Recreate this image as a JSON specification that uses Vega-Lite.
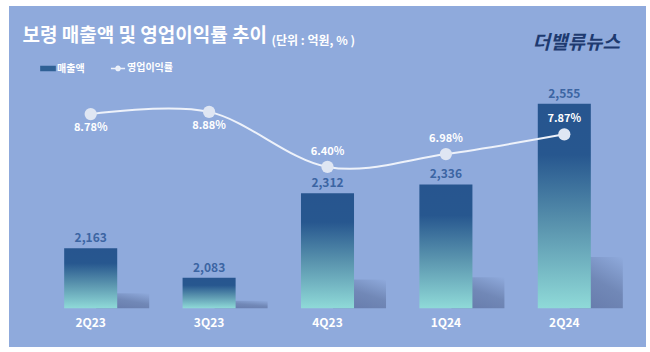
{
  "$schema": "https://vega.github.io/schema/vega-lite/v6.json",
  "width": 637,
  "height": 341,
  "autosize": {"type": "none"},
  "padding": {"left": 9, "top": 6, "right": 4, "bottom": 5},
  "background": "white",
  "config": {
    "view": {"fill": "#8FAADC", "stroke": null},
    "font": "Noto Sans CJK KR"
  },
  "data": {
    "values": [
      {"quarter": "2Q23", "sales": 2163, "margin": 0.0878, "series": "영업이익률"},
      {"quarter": "3Q23", "sales": 2083, "margin": 0.0888, "series": "영업이익률"},
      {"quarter": "4Q23", "sales": 2312, "margin": 0.0640, "series": "영업이익률"},
      {"quarter": "1Q24", "sales": 2336, "margin": 0.0698, "series": "영업이익률"},
      {"quarter": "2Q24", "sales": 2555, "margin": 0.0787, "series": "영업이익률"}
    ]
  },
  "encoding": {
    "x": {
      "field": "quarter",
      "type": "nominal",
      "sort": null,
      "scale": {"paddingInner": 0.552, "paddingOuter": 0.466},
      "axis": {
        "title": null,
        "labelAngle": 0,
        "labelColor": "white",
        "labelFontSize": 12,
        "labelFontWeight": "bold",
        "labelFont": "Noto Sans CJK KR",
        "offset": -30,
        "labelPadding": 0,
        "domain": false,
        "ticks": false,
        "grid": false
      }
    }
  },
  "layer": [
    {
      "mark": {
        "type": "bar",
        "xOffset": 32,
        "color": {
          "gradient": "linear",
          "x1": 0.4, "y1": 1, "x2": 1, "y2": 0,
          "stops": [
            {"offset": 0, "color": "#687DAD"},
            {"offset": 0.45, "color": "#7188B7"},
            {"offset": 1, "color": "#8FAADC"}
          ]
        }
      },
      "encoding": {
        "y": {
          "field": "sales",
          "type": "quantitative",
          "scale": {"domain": [1580, 5279], "zero": false, "nice": false},
          "axis": {
            "orient": "left",
            "title": "보령 매출액 및 영업이익률 추이",
            "titleAngle": 0,
            "titleX": 13,
            "titleY": 29,
            "titleAlign": "left",
            "titleBaseline": "middle",
            "titleColor": "white",
            "titleFontSize": 19,
            "titleFontWeight": "bold",
            "titleFont": "Noto Sans CJK KR",
            "labels": false,
            "ticks": false,
            "domain": false,
            "grid": false
          }
        },
        "y2": {"datum": 2000}
      }
    },
    {
      "encoding": {
        "y": {
          "field": "sales",
          "type": "quantitative",
          "scale": {"domain": [1895, 2820], "zero": false, "nice": false},
          "axis": {
            "orient": "left",
            "title": "(단위 : 억원, % )",
            "titleAngle": 0,
            "titleX": 262,
            "titleY": 34,
            "titleAlign": "left",
            "titleBaseline": "middle",
            "titleColor": "white",
            "titleFontSize": 12,
            "titleFontWeight": "bold",
            "titleFont": "Noto Sans CJK KR",
            "labels": false,
            "ticks": false,
            "domain": false,
            "grid": false
          }
        }
      },
      "layer": [
        {
          "mark": {
            "type": "bar",
            "color": {
              "gradient": "linear",
              "x1": 0, "y1": 0, "x2": 0, "y2": 1,
              "stops": [
                {"offset": 0, "color": "#27558F"},
                {"offset": 0.25, "color": "#27578F"},
                {"offset": 0.6, "color": "#5A94AE"},
                {"offset": 1, "color": "#8FDAD8"}
              ]
            }
          },
          "encoding": {"y2": {"datum": 2000}}
        },
        {
          "mark": {"type": "text", "baseline": "bottom", "dy": -3, "fontSize": 12, "fontWeight": "bold", "color": "#3C65A3", "font": "Noto Sans CJK KR"},
          "encoding": {"text": {"field": "sales", "type": "quantitative", "format": ","}}
        }
      ]
    },
    {
      "encoding": {
        "y": {
          "field": "margin",
          "type": "quantitative",
          "scale": {"domain": [-0.0171, 0.1365], "zero": false, "nice": false},
          "axis": {
            "orient": "right",
            "title": "더밸류뉴스",
            "titleAngle": 0,
            "titleX": -114,
            "titleY": 36,
            "titleAlign": "left",
            "titleBaseline": "middle",
            "titleColor": "#1E3A70",
            "titleFontSize": 19,
            "titleFontWeight": "bold",
            "titleFontStyle": "italic",
            "titleFont": "Noto Sans CJK KR",
            "labels": false,
            "ticks": false,
            "domain": false,
            "grid": false
          }
        }
      },
      "layer": [
        {
          "mark": {"type": "line", "interpolate": "cardinal", "strokeWidth": 2},
          "encoding": {
            "color": {
              "field": "series",
              "type": "nominal",
              "scale": {"domain": ["매출액", "영업이익률"], "range": ["#2F6095", "#EEF2FA"]},
              "legend": {
                "orient": "none",
                "legendX": 31,
                "legendY": 54,
                "direction": "horizontal",
                "title": null,
                "labelColor": "white",
                "labelFontSize": 10,
                "labelFontWeight": "bold",
                "labelFont": "Noto Sans CJK KR",
                "symbolType": "stroke",
                "symbolSize": 200,
                "columnPadding": 22,
                "labelOffset": 1,
                "symbolStrokeWidth": 1.5,
                "encoding": {
                  "symbols": {
                    "shape": {"value": {"expr": "datum.value === '매출액' ? 'M-1,-0.28H1V0.28H-1Z' : 'M-1,0H-0.3M0.3,0H1M-0.3,0A0.3,0.3,0,1,1,0.3,0A0.3,0.3,0,1,1,-0.3,0Z'"}},
                    "fill": {"value": {"expr": "datum.value === '매출액' ? '#2F6095' : '#E6ECF6'"}},
                    "stroke": {"value": {"expr": "datum.value === '매출액' ? '#3E7FA6' : '#F2F5FB'"}}
                  }
                }
              }
            }
          }
        },
        {
          "mark": {"type": "point", "filled": true, "size": 150, "opacity": 1, "color": "#DFE6F3"}
        },
        {
          "transform": [{"filter": "datum.quarter === '2Q23' || datum.quarter === '3Q23'"}],
          "mark": {"type": "text", "baseline": "middle", "dy": 14, "fontSize": 11, "fontWeight": "bold", "color": "white", "font": "Noto Sans CJK KR"},
          "encoding": {"text": {"field": "margin", "type": "quantitative", "format": ".2%"}}
        },
        {
          "transform": [{"filter": "datum.quarter !== '2Q23' && datum.quarter !== '3Q23'"}],
          "mark": {"type": "text", "baseline": "middle", "dy": -15, "fontSize": 11, "fontWeight": "bold", "color": "white", "font": "Noto Sans CJK KR"},
          "encoding": {"text": {"field": "margin", "type": "quantitative", "format": ".2%"}}
        }
      ]
    }
  ],
  "resolve": {"scale": {"y": "independent"}}
}
